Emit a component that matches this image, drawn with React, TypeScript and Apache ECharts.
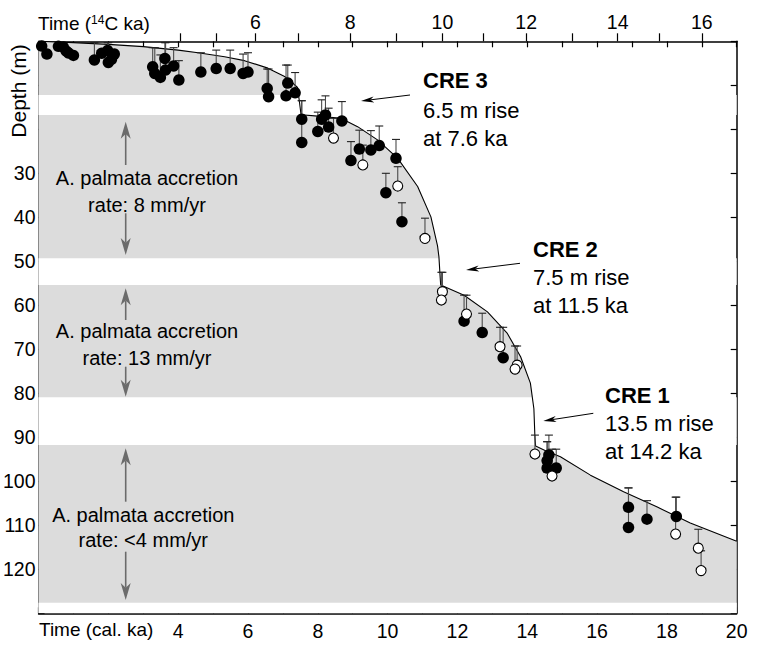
import React, { useEffect, useRef } from "react";
import * as echarts from "echarts";

const FONT = '"Liberation Sans", Arial, Helvetica, sans-serif';

// Sea-level curve: [cal ka, depth m]
const seaLevelCurve = [
  [0, 0], [1, 0.3], [2, 0.7], [3, 1.2], [4, 2.0], [4.57, 2.6], [5.33, 3.5], [5.9, 4.4],
  [6.57, 6.1], [7.05, 8.0], [7.3, 9.6], [7.42, 10.5], [7.47, 13.5], [7.52, 16.7],
  [8.0, 17.0], [8.66, 17.5], [9.14, 19.4], [9.71, 22.4], [10.29, 26.6], [10.86, 33.0],
  [11.24, 39.9], [11.43, 46.5], [11.47, 49], [11.5, 53], [11.52, 55.4], [12.19, 57.7],
  [12.86, 61.5], [13.43, 66.4], [13.81, 71.7], [14.09, 77.7], [14.19, 83.5], [14.22, 90],
  [14.24, 92], [14.57, 93.2], [14.95, 94.4], [15.81, 98.6], [16.76, 102.4], [17.71, 105.8],
  [18.67, 109.5], [20, 113.6],
];

// Samples: [cal ka, depth m, top of error bar (m) or null]
const filledSamples = [
  [0.09, 1.07, null], [0.24, 2.9, null], [0.57, 1.15, null], [0.71, 1.3, null],
  [0.79, 2.2, null], [0.86, 2.65, null], [1.0, 3.2, null], [1.6, 4.25, 0.3],
  [1.81, 2.7, null], [1.98, 2.1, 0.3], [2.0, 4.8, 0.3], [2.09, 4.1, null],
  [2.17, 2.9, null], [3.27, 5.8, 1.45], [3.33, 7.3, 1.45], [3.49, 8.2, 3.1],
  [3.62, 3.9, 0.3], [3.64, 6.5, 0.3], [3.87, 5.6, 1.45], [4.02, 8.8, 4.4],
  [4.65, 7.0, 2.6], [5.09, 6.2, 2.0], [5.49, 6.2, 2.0], [5.86, 7.3, 2.9],
  [6.0, 7.0, 2.6], [6.55, 10.7, 6.3], [6.59, 12.6, 6.3], [7.09, 12.4, 5.4],
  [7.14, 9.5, 5.4], [7.35, 11.7, 7.1], [7.54, 17.7, 13.5], [7.54, 23.0, 13.5],
  [8.0, 20.5, 16.1], [8.11, 17.7, 13.3], [8.22, 16.75, 12.4], [8.31, 19.5, 15.2],
  [8.69, 18.1, 13.7], [8.95, 27.1, 22.8], [9.19, 24.5, 20.2], [9.52, 24.7, 20.3],
  [9.76, 23.7, 19.25], [9.95, 34.4, 30], [10.24, 26.6, 22.3], [10.41, 41.0, 36.7],
  [12.19, 63.6, 57.7], [12.71, 66.2, 61.8], [13.31, 71.9, 65], [14.62, 94.0, 89.5],
  [14.57, 95.3, 91], [14.57, 97.0, 91], [14.83, 97.0, 92.7], [16.9, 105.9, 101.5],
  [16.9, 110.5, 101.5], [17.43, 108.6, 104.4], [18.27, 108.0, 103.6],
];

const openSamples = [
  [8.45, 22.0, 17.5], [9.29, 28.1, 23.6], [10.29, 32.9, 28.5], [11.07, 44.8, 40.2],
  [11.57, 56.9, 52.5], [11.54, 58.8, 52.5], [12.26, 62.0, 57.7], [13.22, 69.4, 65],
  [13.71, 73.6, 69.25], [13.65, 74.5, 69.25], [14.22, 93.8, 89.5], [14.71, 98.8, 92.7],
  [18.25, 112.0, 103.6], [18.9, 115.2, 110.9], [18.98, 120.3, 115.8],
];

// Depth ranges without the grey fill
const gapBands = [[12.2, 16.75], [49.3, 55.4], [80.9, 91.75], [127.6, 130]];

// Axis ticks / labels
const calLabels = [4, 6, 8, 10, 12, 14, 16, 18, 20];
const depthLabels = [30, 40, 50, 60, 70, 80, 90, 100, 110, 120];
const c14TickAges = [4, 5, 6, 7, 8, 9, 10, 11, 12, 13, 14, 15, 16];
const c14TickCalPositions = [4.05, 5.08, 6.21, 7.43, 8.93, 10.25, 11.57, 12.75, 13.97, 15.29, 16.59, 17.79, 19.0];
const c14LabelAges = [6, 8, 10, 12, 14, 16];

function arrowEls(x1: number, y1: number, x2: number, y2: number, color: string, lw: number, headLen: number, half: number) {
  const dx = x2 - x1, dy = y2 - y1;
  const L = Math.hypot(dx, dy);
  const ux = dx / L, uy = dy / L;
  const nx = -uy, ny = ux;
  const bx = x2 - ux * headLen, by = y2 - uy * headLen;
  const mx = x2 - ux * headLen * 0.72, my = y2 - uy * headLen * 0.72;
  return [
    { type: "line", z: 20, shape: { x1, y1, x2: mx, y2: my }, style: { stroke: color, lineWidth: lw } },
    {
      type: "polygon", z: 20,
      shape: { points: [[x2, y2], [bx + nx * half, by + ny * half], [mx, my], [bx - nx * half, by - ny * half]] },
      style: { fill: color, stroke: "none" },
    },
  ];
}

function txt(text: string, x: number, baseline: number, size: number, opts: any = {}) {
  return {
    type: "text", z: 20,
    style: {
      text, x, y: baseline - 0.347 * size,
      font: `${opts.bold ? "bold " : ""}${size}px ${FONT}`,
      fill: "#000", align: opts.align || "left", verticalAlign: "middle",
    },
  };
}

export default function App() {
  const ref = useRef<HTMLDivElement>(null);
  useEffect(() => {
    if (!ref.current) return;
    const chart = echarts.init(ref.current, null, { renderer: "svg" });
    const axisLine = { show: true, onZero: false, lineStyle: { color: "#000", width: 1.5 } };
    const tickStyle = { color: "#000", width: 1.2 };
    const labelBase = { color: "#000", fontSize: 19.5, fontFamily: FONT };
    const c14LabelPositions = c14LabelAges.map((a) => c14TickCalPositions[c14TickAges.indexOf(a)]);

    const errData = [...filledSamples, ...openSamples].filter((d) => d[2] !== null);

    const gray = "#6b6b6b";
    const graphic: any[] = [
      txt("Time (cal. ka)", 39, 636, 19),
      {
        type: "text", z: 20,
        style: {
          x: 38, y: 34,
          text: "{a|Time (}{s|14}{a|C ka)}",
          verticalAlign: "bottom",
          rich: {
            a: { fontSize: 19, fontFamily: FONT, fill: "#000", lineHeight: 22 },
            s: { fontSize: 12, fontFamily: FONT, fill: "#000", lineHeight: 22, verticalAlign: "top", padding: [2, 0, 0, 0] },
          },
        },
      },
      {
        type: "text", z: 20, x: 18.7, y: 91, rotation: Math.PI / 2,
        style: { text: "Depth (m)", x: 0, y: 0, font: `21px ${FONT}`, fill: "#000", align: "center", verticalAlign: "middle" },
      },
      txt("CRE 3", 423, 88.3, 22, { bold: true }),
      txt("6.5 m rise", 423, 118, 22),
      txt("at 7.6 ka", 423, 145.7, 22),
      txt("CRE 2", 533, 256.7, 22, { bold: true }),
      txt("7.5 m rise", 533, 285, 22),
      txt("at 11.5 ka", 533, 313.3, 22),
      txt("CRE 1", 605, 402.7, 22, { bold: true }),
      txt("13.5 m rise", 605, 430.7, 22),
      txt("at 14.2 ka", 605, 459.3, 22),
      ...arrowEls(410, 95, 361, 101, "#000", 1, 13, 3),
      ...arrowEls(520, 263.3, 466, 270, "#000", 1, 13, 3),
      ...arrowEls(593.3, 413.3, 543.3, 421, "#000", 1, 13, 3),
      txt("A. palmata accretion", 147, 185, 20, { align: "center" }),
      txt("rate: 8 mm/yr", 147, 211.7, 20, { align: "center" }),
      txt("A. palmata accretion", 147, 338.3, 20, { align: "center" }),
      txt("rate: 13 mm/yr", 147, 365, 20, { align: "center" }),
      txt("A. palmata accretion", 143.3, 521.7, 20, { align: "center" }),
      txt("rate: <4 mm/yr", 143.3, 546.7, 20, { align: "center" }),
      ...arrowEls(125.7, 165, 125.7, 121.7, gray, 1.6, 17, 5),
      ...arrowEls(125.7, 213.3, 125.7, 255, gray, 1.6, 17, 5),
      ...arrowEls(125.7, 320, 125.7, 288.3, gray, 1.6, 17, 5),
      ...arrowEls(125.7, 366.7, 125.7, 396.7, gray, 1.6, 17, 5),
      ...arrowEls(125.7, 501.7, 125.7, 448.3, gray, 1.6, 17, 5),
      ...arrowEls(125.7, 551.7, 125.7, 600, gray, 1.6, 17, 5),
    ];

    const option: any = {
      animation: false,
      grid: { left: 37, right: 24.3, top: 41.3, bottom: 49.7 },
      xAxis: [
        {
          type: "value", min: 0, max: 20, interval: 1, position: "bottom",
          axisLine, splitLine: { show: false },
          axisTick: { show: true, inside: true, length: 6, lineStyle: tickStyle },
          axisLabel: { ...labelBase, margin: 8, formatter: (v: number) => (calLabels.includes(v) ? String(v) : "") },
        },
        {
          type: "value", min: 0, max: 20, position: "top",
          axisLine, splitLine: { show: false },
          axisTick: { show: true, inside: false, length: 8, lineStyle: tickStyle, customValues: c14TickCalPositions },
          axisLabel: {
            ...labelBase, margin: 9, customValues: c14LabelPositions,
            formatter: (v: number) => {
              const i = c14LabelPositions.findIndex((p) => Math.abs(p - v) < 1e-6);
              return i >= 0 ? String(c14LabelAges[i]) : "";
            },
          },
        },
        {
          type: "value", min: 0, max: 20, interval: 1, position: "top",
          axisLine: { show: false, onZero: false }, splitLine: { show: false },
          axisTick: { show: true, inside: true, length: 6, lineStyle: tickStyle },
          axisLabel: { show: false },
        },
      ],
      yAxis: [
        {
          type: "value", min: 0, max: 130, interval: 10, inverse: true, position: "left",
          axisLine, splitLine: { show: false },
          axisTick: { show: true, inside: true, length: 6, lineStyle: tickStyle },
          axisLabel: { ...labelBase, margin: 3, formatter: (v: number) => (depthLabels.includes(v) ? String(v) : "") },
        },
        {
          type: "value", min: 0, max: 130, interval: 10, inverse: true, position: "right",
          axisLine, splitLine: { show: false },
          axisTick: { show: true, inside: true, length: 6, lineStyle: tickStyle },
          axisLabel: { show: false },
        },
      ],
      series: [
        {
          type: "line", data: seaLevelCurve, symbol: "none", z: 1, silent: true,
          lineStyle: { width: 0 }, areaStyle: { color: "#dcdcdc", opacity: 1, origin: "end" },
        },
        {
          type: "custom", z: 2, silent: true, data: gapBands,
          encode: { y: [0, 1] },
          clip: true,
          renderItem: (params: any, api: any) => {
            const cs = params.coordSys;
            const yA = api.coord([0, api.value(0)])[1];
            const yB = api.coord([0, api.value(1)])[1];
            return {
              type: "rect",
              shape: { x: cs.x, y: Math.min(yA, yB), width: cs.width, height: Math.abs(yB - yA) },
              style: { fill: "#ffffff" },
            };
          },
        },
        {
          type: "line", data: seaLevelCurve, symbol: "none", z: 3, silent: true,
          lineStyle: { color: "#000", width: 1.1 },
        },
        {
          type: "custom", z: 4, silent: true, data: errData,
          encode: { x: 0, y: 1 },
          renderItem: (params: any, api: any) => {
            const x = api.value(0), y = api.value(1), top = api.value(2);
            const p0 = api.coord([x, y]);
            const p1 = api.coord([x, top]);
            return {
              type: "group",
              children: [
                { type: "line", shape: { x1: p0[0], y1: p0[1], x2: p1[0], y2: p1[1] }, style: { stroke: "#4a4a4a", lineWidth: 1.1 } },
                { type: "line", shape: { x1: p1[0] - 4, y1: p1[1], x2: p1[0] + 4, y2: p1[1] }, style: { stroke: "#222", lineWidth: 1.1 } },
              ],
            };
          },
        },
        {
          type: "scatter", z: 5, silent: true, symbolSize: 11.5,
          data: filledSamples.map((d) => [d[0], d[1]]),
          itemStyle: { color: "#000", opacity: 1 },
        },
        {
          type: "scatter", z: 6, silent: true, symbolSize: 10,
          data: openSamples.map((d) => [d[0], d[1]]),
          itemStyle: { color: "#fff", borderColor: "#000", borderWidth: 1.1, opacity: 1 },
        },
      ],
      graphic,
    };
    chart.setOption(option);
    return () => chart.dispose();
  }, []);
  return <div ref={ref} style={{ position: "fixed", left: 0, top: 0, width: 761, height: 663, background: "#fff" }} />;
}
